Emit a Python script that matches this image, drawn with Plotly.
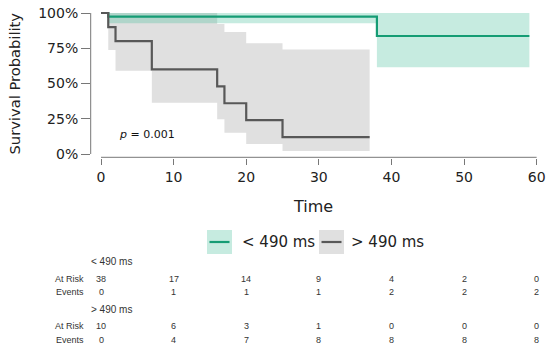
import plotly.graph_objects as go

# ---------------- data ----------------
group_names = ["< 490 ms", "> 490 ms"]

a_time = [0, 1, 38, 59]
a_surv = [1.0, 0.974, 0.837, 0.837]
a_lower = [1.0, 0.927, 0.615, 0.615]
a_upper = [1.0, 1.0, 1.0, 1.0]

b_time = [0, 1, 2, 7, 16, 17, 20, 25, 37]
b_surv = [1.0, 0.90, 0.80, 0.60, 0.48, 0.36, 0.24, 0.12, 0.12]
b_lower = [1.0, 0.738, 0.590, 0.364, 0.246, 0.151, 0.071, 0.021, 0.021]
b_upper = [1.0, 1.0, 1.0, 1.0, 0.922, 0.865, 0.785, 0.742, 0.742]

table_times = [0, 10, 20, 30, 40, 50, 60]
a_at_risk = [38, 17, 14, 9, 4, 2, 0]
a_events = [0, 1, 1, 1, 2, 2, 2]
b_at_risk = [10, 6, 3, 1, 0, 0, 0]
b_events = [0, 4, 7, 8, 8, 8, 8]

p_text = "<i>p</i> = 0.001"

# ---------------- styling ----------------
W, H = 550, 351
# plot area in page pixels
PX_L, PX_R, PY_T, PY_B = 91, 541, 10, 158
ML, MR, MT, MB = PX_L, W - PX_R, PY_T, H - PY_B
PW, PH = PX_R - PX_L, PY_B - PY_T

GREEN = "#159c74"
GREEN_FILL = "rgba(65,188,152,0.30)"
GREEN_PATCH = "#c6ebe0"
GRAY = "#585858"
GRAY_FILL = "#e0e0e0"
TICK_FONT = dict(family="DejaVu Sans", size=14, color="#222222")


def px_x(px):
    return (px - PX_L) / PW


def px_y(py):
    return (PY_B - py) / PH


def step_band(t, lo, up):
    # polygon of a step (hv) confidence band, skipping the degenerate start
    xs, ys = [], []
    n = len(t)
    for i in range(1, n):
        x0 = t[i]
        x1 = t[i + 1] if i + 1 < n else t[i]
        if x1 == x0:
            continue
        xs += [x0, x1]
        ys += [up[i], up[i]]
    for i in range(n - 1, 0, -1):
        x0 = t[i]
        x1 = t[i + 1] if i + 1 < n else t[i]
        if x1 == x0:
            continue
        xs += [x1, x0]
        ys += [lo[i], lo[i]]
    return xs, ys


fig = go.Figure()

bx, by = step_band(b_time, b_lower, b_upper)
fig.add_trace(go.Scatter(x=bx, y=by, fill="toself", fillcolor=GRAY_FILL,
                         line=dict(width=0), mode="lines", hoverinfo="skip",
                         showlegend=False))
ax_, ay_ = step_band(a_time, a_lower, a_upper)
fig.add_trace(go.Scatter(x=ax_, y=ay_, fill="toself", fillcolor=GREEN_FILL,
                         line=dict(width=0), mode="lines", hoverinfo="skip",
                         showlegend=False))

fig.add_trace(go.Scatter(x=a_time, y=a_surv, mode="lines",
                         line=dict(color=GREEN, width=2.2, shape="hv"),
                         name=group_names[0], showlegend=False))
fig.add_trace(go.Scatter(x=b_time, y=b_surv, mode="lines",
                         line=dict(color=GRAY, width=2.2, shape="hv"),
                         name=group_names[1], showlegend=False))

shapes = []
# axis lines (offset, like base graphics)
shapes.append(dict(type="line", xref="x", yref="paper", x0=table_times[0], x1=table_times[-1],
                   y0=px_y(157.3), y1=px_y(157.3), line=dict(color="#777777", width=1)))
shapes.append(dict(type="line", xref="paper", yref="y", x0=px_x(90.7), x1=px_x(90.7),
                   y0=0, y1=1, line=dict(color="#777777", width=1)))

annotations = []
annotations.append(dict(x=2.15, y=0.135, xref="x", yref="y", text=p_text, showarrow=False,
                        xanchor="left", yanchor="middle",
                        font=dict(family="DejaVu Sans", size=11, color="#111111")))
annotations.append(dict(x=px_x(14), y=px_y(83.5), xref="paper", yref="paper",
                        text="Survival Probability",
                        textangle=-90, showarrow=False, xanchor="center", yanchor="middle",
                        font=dict(family="DejaVu Sans", size=14.7, color="#222222")))
annotations.append(dict(x=px_x(313), y=px_y(206), xref="paper", yref="paper", text="Time",
                        showarrow=False, xanchor="center", yanchor="middle",
                        font=dict(family="DejaVu Sans", size=16, color="#222222")))

# legend (manual)
legend_items = [(207, GREEN_PATCH, GREEN, 240, group_names[0]),
                (319, GRAY_FILL, GRAY, 349, group_names[1])]
for x0, fillc, linec, tx, label in legend_items:
    shapes.append(dict(type="rect", xref="paper", yref="paper", x0=px_x(x0), x1=px_x(x0 + 25),
                       y0=px_y(254), y1=px_y(230), fillcolor=fillc, line=dict(width=0)))
    shapes.append(dict(type="line", xref="paper", yref="paper", x0=px_x(x0 + 2.5), x1=px_x(x0 + 22.5),
                       y0=px_y(242), y1=px_y(242), line=dict(color=linec, width=2.2)))
    annotations.append(dict(x=px_x(tx), y=px_y(242), xref="paper", yref="paper", text=label,
                            showarrow=False, xanchor="left", yanchor="middle",
                            font=dict(family="DejaVu Sans", size=15, color="#222222")))

# risk table
TFONT = dict(family="Liberation Sans", size=9, color="#333333")
HFONT = dict(family="Liberation Sans", size=10, color="#333333")
rows = [
    (261.7, None, group_names[0]),
    (278.7, "At Risk", a_at_risk),
    (292.3, "Events", a_events),
    (309.0, None, group_names[1]),
    (326.0, "At Risk", b_at_risk),
    (339.7, "Events", b_events),
]
for py, label, vals in rows:
    if label is None:
        annotations.append(dict(x=px_x(89), y=px_y(py), xref="paper", yref="paper", text=vals,
                                showarrow=False, xanchor="left", yanchor="middle", font=HFONT))
    else:
        annotations.append(dict(x=px_x(86), y=px_y(py), xref="paper", yref="paper", text=label,
                                showarrow=False, xanchor="right", yanchor="middle", font=TFONT))
        for t, v in zip(table_times, vals):
            annotations.append(dict(x=t, y=px_y(py), xref="x", yref="paper", text=str(v),
                                    showarrow=False, xanchor="center", yanchor="middle", font=TFONT))

fig.update_layout(
    width=W, height=H,
    margin=dict(l=ML, r=MR, t=MT, b=MB, autoexpand=False),
    paper_bgcolor="white", plot_bgcolor="white",
    showlegend=False,
    shapes=shapes, annotations=annotations,
    xaxis=dict(range=[-1.377, 60.6], tickvals=table_times, ticks="outside", ticklen=6,
               tickcolor="#777777", showline=False, showgrid=False, zeroline=False,
               tickfont=TICK_FONT, fixedrange=True, automargin=False,
               ticklabeloverflow="allow"),
    yaxis=dict(range=[-0.0284, 1.0213], tickvals=[0, 0.25, 0.5, 0.75, 1.0],
               ticktext=["0%", "25%", "50%", "75%", "100%"], ticks="outside", ticklen=9,
               tickcolor="#777777", showline=False, showgrid=False, zeroline=False,
               tickfont=TICK_FONT, fixedrange=True, automargin=False,
               ticklabeloverflow="allow"),
)

# remove the browser's default page margin so the figure sits at the top-left corner
fig.write_html("out.html", config={"displayModeBar": False},
               post_script="document.body.style.margin='0';")
